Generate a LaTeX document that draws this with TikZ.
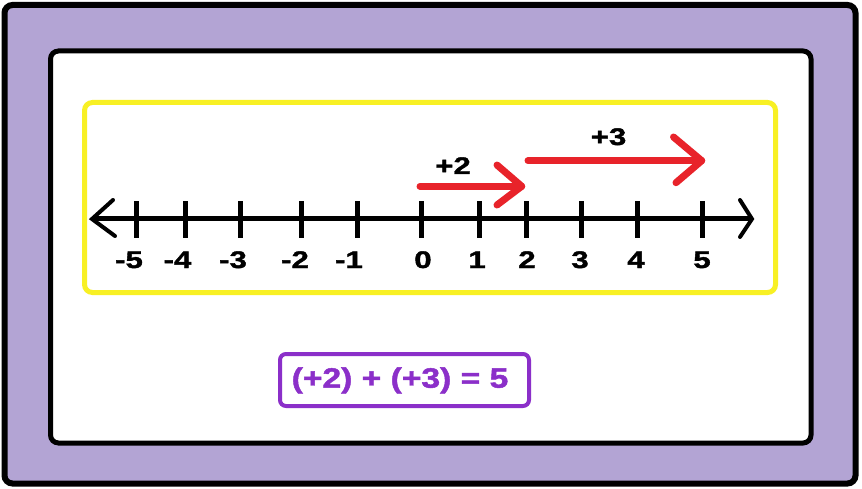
\documentclass[tikz,border=0pt]{standalone}
\usepackage{fontspec}
\newfontfamily\labfont{Liberation Sans}[FakeStretch=1.3, FakeBold=1.6]
\newfontfamily\eqfont{Liberation Sans}[FakeStretch=1.2, FakeBold=1.6]
\definecolor{bgpurple}{HTML}{B3A4D4}
\definecolor{lineyellow}{HTML}{F8F024}
\definecolor{arrred}{HTML}{E8232A}
\definecolor{eqpurple}{HTML}{8B2FC9}
\tikzset{
  frame/.style={line width=5.5pt, rounded corners=8pt},
  axis/.style={line width=5pt, black},
  tickmark/.style={line width=5pt, black},
  redarrow/.style={line width=7pt, arrred, line cap=round, line join=round},
  numlab/.style={inner sep=0pt, anchor=base, font=\labfont\bfseries\fontsize{24}{24}\selectfont},
  jumplab/.style={inner sep=0pt, anchor=base, font=\labfont\bfseries\fontsize{24}{24}\selectfont},
  eqbox/.style={draw=eqpurple, line width=4pt, rounded corners=6pt, minimum width=249pt, minimum height=52pt, inner sep=0pt},
}
\begin{document}
\begin{tikzpicture}[x=1pt,y=-1pt]
\useasboundingbox (0,0) rectangle (862,489);
% frames
\draw[frame, fill=bgpurple, line width=6pt] (4.5,5) rectangle (855.5,483.5);
\draw[frame, fill=white, line width=5pt] (50.5,51) rectangle (811,443);
\draw[frame, draw=lineyellow, line width=5pt] (84.5,102.5) rectangle (775.5,292.5);
% number line
\coordinate (L) at (92,219);
\coordinate (R) at (752,219);
\draw[axis] (L) -- (R);
\draw[line width=4pt, line cap=round, line join=miter] (113,200) -- (L) -- (115,236);
\draw[line width=4pt, line cap=round, line join=miter] (740,200) -- (R) -- (740,237);
% ticks and labels
\foreach \n/\x/\lx in {-5/136.7/129, -4/185.3/177.5, -3/240/233, -2/301.7/295, -1/357.3/349, 0/421/423, 1/479/477, 2/526/527, 3/581/580, 4/637/636, 5/702/702}{
  \coordinate (t\n) at (\x,219);
  \draw[tickmark] ([yshift=-19pt]t\n) -- ([yshift=18pt]t\n);
  \node[numlab] (n\n) at (\lx,268) {\n};
}
% red jumps
\coordinate (a0) at (420,186.3);
\coordinate (a2) at (521.7,186.3);
\draw[redarrow] (a0) -- (a2);
\draw[redarrow] (497,165) -- (a2) -- (497,205);
\node[jumplab] (p2) at (453,174) {+2};
\coordinate (b2) at (528,160.7);
\coordinate (b5) at (701.7,160.7);
\draw[redarrow] (b2) -- (b5);
\draw[redarrow] (673.5,137) -- (b5) -- (676,182.7);
\node[jumplab] (p3) at (608.5,145) {+3};
% equation
\node[eqbox] (eq) at (404.5,380) {};
\node[inner sep=0pt, anchor=base, text=eqpurple, font=\eqfont\bfseries\fontsize{28}{28}\selectfont] (eqtext) at (400,387.7) {(+2) + (+3) = 5};
\end{tikzpicture}
\end{document}
